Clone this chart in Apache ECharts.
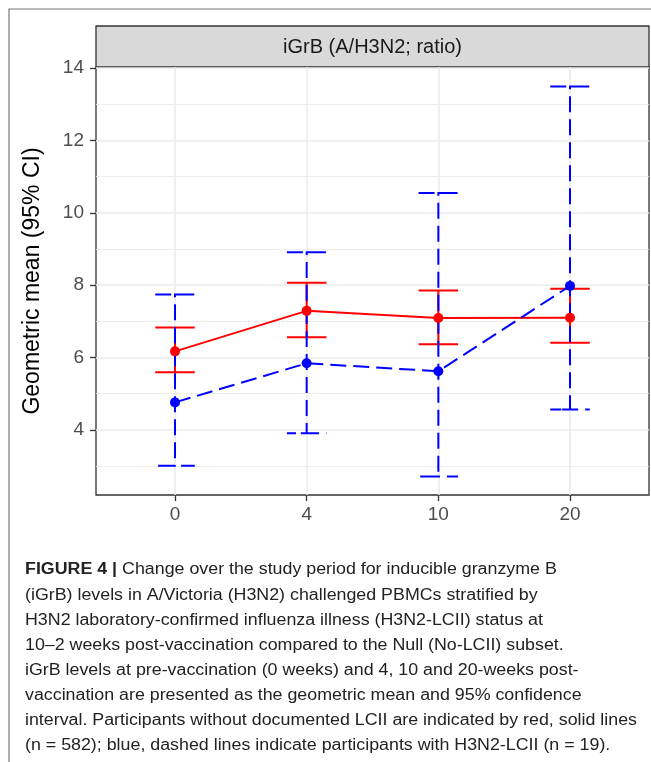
<!DOCTYPE html>
<html><head><meta charset="utf-8">
<script src="https://cdn.jsdelivr.net/npm/echarts@6/dist/echarts.min.js"></script>
<style>html,body{margin:0;padding:0;background:#fff}#c{width:651px;height:762px}</style>
</head><body><div id="c"></div>
<script>
// ---- data ----
const weeks = ['0', '4', '10', '20'];
const nullMean  = [6.17, 7.29, 7.09, 7.10];
const nullLower = [5.59, 6.56, 6.37, 6.41];
const nullUpper = [6.83, 8.07, 7.85, 7.90];
const lciiMean  = [4.76, 5.84, 5.62, 7.98];
const lciiLower = [3.01, 3.91, 2.71, 4.56];
const lciiUpper = [7.74, 8.91, 10.55, 13.49];
const yTicks = [4, 6, 8, 10, 12, 14];
const yMinor = [3, 5, 7, 9, 11, 13];
const stripLabel = 'iGrB (A/H3N2; ratio)';
const yTitle = 'Geometric mean (95% CI)';
const captionBold = 'FIGURE 4 | ';
const captionLines = [
  'Change over the study period for inducible granzyme B',
  '(iGrB) levels in A/Victoria (H3N2) challenged PBMCs stratified by',
  'H3N2 laboratory-confirmed influenza illness (H3N2-LCII) status at',
  '10\u20132 weeks post-vaccination compared to the Null (No-LCII) subset.',
  'iGrB levels at pre-vaccination (0 weeks) and 4, 10 and 20-weeks post-',
  'vaccination are presented as the geometric mean and 95% confidence',
  'interval. Participants without documented LCII are indicated by red, solid lines',
  '(n = 582); blue, dashed lines indicate participants with H3N2-LCII (n = 19).'
];

// ---- chart ----
const FONT = '"Liberation Sans", Arial, Helvetica, sans-serif';
const RED = '#FF0000', BLUE = '#0000FF';
const idx = weeks.map((w, i) => i);

function ebSeries(name, lo, hi, color, dash) {
  return {
    type: 'custom', name, silent: true,
    data: idx.map(i => [i, lo[i], hi[i]]),
    encode: { x: 0, y: [1, 2] },
    renderItem(params, api) {
      const x = api.value(0), l = api.value(1), h = api.value(2), w = 0.15;
      const pts = [[x - w, h], [x + w, h], [x, h], [x, l], [x - w, l], [x + w, l]].map(p => api.coord(p));
      return { type: 'polyline', shape: { points: pts },
        style: { stroke: color, lineWidth: 2, lineDash: dash, fill: null } };
    }
  };
}
function lineSeries(name, vals, color, dash) {
  return { type: 'line', name, silent: true, showSymbol: false, symbol: 'none',
    data: idx.map(i => [i, vals[i]]),
    lineStyle: { color, width: 2, type: dash || 'solid' } };
}
function ptSeries(name, vals, color) {
  return { type: 'scatter', name, silent: true, symbolSize: 10,
    data: idx.map(i => [i, vals[i]]), itemStyle: { color, opacity: 1 } };
}

// caption scale to mimic narrower typesetting
const CAP_SIZE = 16;
const ctx = document.createElement('canvas').getContext('2d');
ctx.font = CAP_SIZE + 'px ' + FONT;
const capScale = 612 / ctx.measureText(captionLines[6]).width;

const graphics = [
  { type: 'rect', shape: { x: 9, y: 9, width: 700, height: 800 },
    style: { fill: 'none', stroke: '#777', lineWidth: 1.2 }, silent: true },
  { type: 'rect', shape: { x: 96, y: 26, width: 553, height: 41 },
    style: { fill: '#D9D9D9', stroke: '#333', lineWidth: 1.3 }, silent: true },
  { type: 'text', x: 372.5, y: 47, silent: true,
    style: { text: stripLabel, fill: '#1A1A1A', fontSize: 20, fontFamily: FONT, align: 'center', verticalAlign: 'middle' } }
];
captionLines.forEach((t, i) => {
  graphics.push({ type: 'text', x: 25, y: 570 + i * 25.14, scaleX: capScale, silent: true,
    style: { text: i === 0 ? '{b|' + captionBold + '}' + t : t, fill: '#222', fontSize: CAP_SIZE, fontFamily: FONT,
      align: 'left', verticalAlign: 'middle',
      rich: { b: { fontWeight: 'bold', fontSize: CAP_SIZE, fontFamily: FONT, fill: '#222' } } } });
});

const chart = echarts.init(document.getElementById('c'), null, { renderer: 'canvas' });
chart.setOption({
  animation: false,
  backgroundColor: '#fff',
  grid: { left: 96, right: 2, top: 67, bottom: 267, show: true, borderColor: '#333', borderWidth: 1.3, backgroundColor: 'transparent' },
  xAxis: { type: 'value', min: -0.6, max: 3.6,
    axisLine: { show: false, onZero: false },
    axisTick: { show: true, length: 6, lineStyle: { color: '#333', width: 1.3 }, customValues: idx },
    axisLabel: { customValues: idx, formatter: v => weeks[Math.round(v)], color: '#4D4D4D', fontSize: 19, fontFamily: FONT, margin: 10 },
    splitLine: { show: true, lineStyle: { color: '#EBEBEB', width: 1.6 } } },
  yAxis: [
    { type: 'value', min: 2.2, max: 14.03, position: 'left',
      name: yTitle, nameLocation: 'middle', nameGap: 52,
      nameTextStyle: { fontSize: 23, fontFamily: FONT, color: '#000' },
      axisLine: { show: false, onZero: false },
      axisTick: { show: true, length: 6, lineStyle: { color: '#333', width: 1.3 }, customValues: yTicks },
      axisLabel: { customValues: yTicks, color: '#4D4D4D', fontSize: 19, fontFamily: FONT, margin: 12 },
      splitLine: { show: true, lineStyle: { color: '#EBEBEB', width: 1.6 } } },
    { type: 'value', min: 2.2, max: 14.03, position: 'right',
      axisLine: { show: false, onZero: false },
      axisTick: { show: false, customValues: yMinor },
      axisLabel: { show: false },
      splitLine: { show: true, lineStyle: { color: '#EBEBEB', width: 0.9 } } }
  ],
  graphic: graphics,
  series: [
    ebSeries('Null CI', nullLower, nullUpper, RED, null),
    ebSeries('LCII CI', lciiLower, lciiUpper, BLUE, [16, 7]),
    lineSeries('Null', nullMean, RED, 'solid'),
    lineSeries('LCII', lciiMean, BLUE, [16, 7]),
    ptSeries('Null pts', nullMean, RED),
    ptSeries('LCII pts', lciiMean, BLUE)
  ]
});
</script></body></html>
